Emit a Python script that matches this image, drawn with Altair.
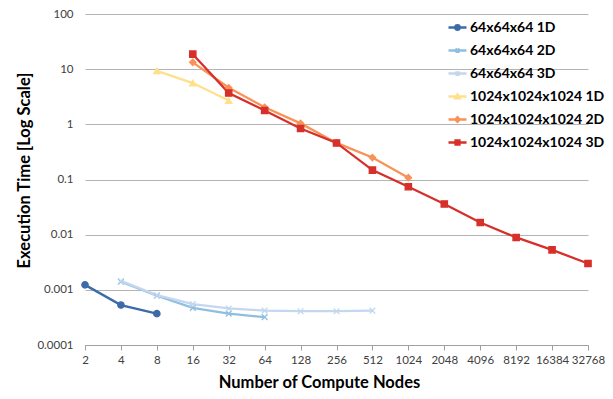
import altair as alt
import pandas as pd

nodes_64_1d = [2, 4, 8]
time_64_1d = [0.00123, 0.00053, 0.00037]
nodes_64_2d = [4, 8, 16, 32, 64]
time_64_2d = [0.0014, 0.00078, 0.00047, 0.00037, 0.00032]
nodes_64_3d = [4, 8, 16, 32, 64, 128, 256, 512]
time_64_3d = [0.00145, 0.0008, 0.00055, 0.00046, 0.00042, 0.00041, 0.00041, 0.00042]
nodes_1k_1d = [8, 16, 32]
time_1k_1d = [9.3, 5.6, 2.7]
nodes_1k_2d = [16, 32, 64, 128, 256, 512, 1024]
time_1k_2d = [13.3, 4.6, 2.04, 1.04, 0.46, 0.25, 0.108]
nodes_1k_3d = [16, 32, 64, 128, 256, 512, 1024, 2048, 4096, 8192, 16384, 32768]
time_1k_3d = [18.7, 3.7, 1.78, 0.84, 0.46, 0.148, 0.074, 0.036, 0.0166, 0.0089, 0.0053, 0.003]

series_names = ["64x64x64 1D", "64x64x64 2D", "64x64x64 3D",
                "1024x1024x1024 1D", "1024x1024x1024 2D", "1024x1024x1024 3D"]
series_colors = ["#3c6ba7", "#8fbfe0", "#c3d7ee", "#ffe08a", "#f99257", "#d7302b"]
x_ticks = [2, 4, 8, 16, 32, 64, 128, 256, 512, 1024, 2048, 4096, 8192, 16384, 32768]
y_ticks = [100, 10, 1, 0.1, 0.01, 0.001, 0.0001]

X_PATH = "M-0.9,-0.9L0.9,0.9M-0.9,0.9L0.9,-0.9"
point_shapes = ["circle", X_PATH, X_PATH, "triangle-up", "diamond", "square"]
legend_shapes = [
    "M-1,0H1M-0.25,0A0.25,0.25 0 1,0 0.25,0A0.25,0.25 0 1,0 -0.25,0",
    "M-1,0H1M-0.22,-0.22L0.22,0.22M-0.22,0.22L0.22,-0.22",
    "M-1,0H1M-0.22,-0.22L0.22,0.22M-0.22,0.22L0.22,-0.22",
    "M-1,0H1M-0.25,0.2L0,-0.25L0.25,0.2Z",
    "M-1,0H1M-0.25,0L0,-0.25L0.25,0L0,0.25Z",
    "M-1,0H1M-0.22,-0.22H0.22V0.22H-0.22Z",
]

rows = []
for name, xs, ys in zip(series_names,
                        [nodes_64_1d, nodes_64_2d, nodes_64_3d, nodes_1k_1d, nodes_1k_2d, nodes_1k_3d],
                        [time_64_1d, time_64_2d, time_64_3d, time_1k_1d, time_1k_2d, time_1k_3d]):
    for xv, yv in zip(xs, ys):
        rows.append({"series": name, "nodes": xv, "time": yv})
df = pd.DataFrame(rows)

FONT = "Lato"

x_enc = alt.X("nodes:Q", scale=alt.Scale(type="log", base=2, domain=[2, 32768], nice=False),
              axis=alt.Axis(values=x_ticks, format="d", grid=False, domainColor="#a0a0a0",
                            tickColor="#a0a0a0", tickSize=5, labelPadding=4, labelFontSize=11.5,
                            labelColor="#404040", labelFont=FONT, title="Number of Compute Nodes",
                            titleFont=FONT, titleFontSize=16.5, titleFontWeight="bold",
                            titleColor="#000000", titlePadding=9, titleX=234, labelFlush=False))
y_enc = alt.Y("time:Q", scale=alt.Scale(type="log", domain=[0.0001, 100], nice=False),
              axis=alt.Axis(values=y_ticks, labelExpr="toString(datum.value)", domain=False,
                            ticks=False, gridColor="#b4b4b4", gridWidth=1, labelPadding=12,
                            labelFontSize=11.5, labelColor="#404040", labelFont=FONT,
                            title="Execution Time [Log Scale]", titleFont=FONT, titleFontSize=16.5,
                            titleFontWeight="bold", titleColor="#000000", titlePadding=4, titleY=156))

color_scale = alt.Scale(domain=series_names, range=series_colors)

lines = alt.Chart(df).mark_line(strokeWidth=2.3).encode(
    x=x_enc, y=y_enc,
    color=alt.Color("series:N", scale=color_scale, legend=None),
    order="nodes:Q",
)

points = alt.Chart(df).mark_point(filled=False, strokeWidth=1.3, size=40, opacity=1).encode(
    x=x_enc, y=y_enc,
    color=alt.Color("series:N", scale=color_scale, legend=None),
    fill=alt.Fill("series:N", scale=alt.Scale(domain=series_names, range=series_colors), legend=None),
    shape=alt.Shape("series:N", scale=alt.Scale(domain=series_names, range=point_shapes), legend=None),
)

legend_props = dict(title=None, orient="none", legendX=362, legendY=3,
                    symbolSize=324, symbolStrokeWidth=2.3, symbolOpacity=1,
                    symbolStrokeColor={"expr": "scale('color', datum.value)"},
                    labelFont=FONT, labelFontSize=14, labelFontWeight="bold",
                    labelColor="#000000", labelOffset=2, rowPadding=5, labelLimit=300)

legend_layer = alt.Chart(df).mark_point(filled=False, opacity=0).encode(
    x=x_enc, y=y_enc,
    color=alt.Color("series:N", scale=color_scale, legend=None),
    shape=alt.Shape("series:N", scale=alt.Scale(domain=series_names, range=legend_shapes),
                    legend=alt.Legend(**legend_props)),
)

chart = alt.layer(lines, points, legend_layer).resolve_scale(shape="independent").properties(
    width=503, height=331,
    autosize=alt.AutoSizeParams(type="none"),
    padding={"left": 77, "top": 6, "right": 17, "bottom": 50},
    background="white",
).configure_view(stroke=None)

chart.save("out.html", embed_options={"renderer": "svg", "actions": False})
